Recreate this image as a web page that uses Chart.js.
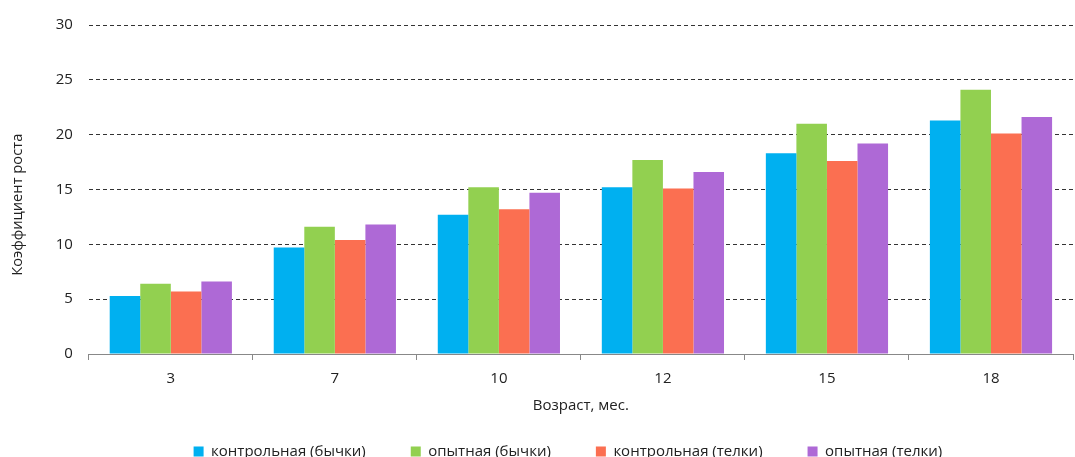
<!DOCTYPE html>
<html>
<head>
<meta charset="utf-8">
<script src="https://cdn.jsdelivr.net/npm/chart.js@4"></script>
<style>
  html, body { margin: 0; padding: 0; background: #fff; }
  #wrap { width: 1075px; height: 457px; }
</style>
</head>
<body>
<div id="wrap"><canvas id="chart"></canvas></div>
<script>
const categories = ["3", "7", "10", "12", "15", "18"];
const controlBulls = [5.3, 9.7, 12.7, 15.2, 18.3, 21.3];
const testBulls = [6.4, 11.6, 15.2, 17.7, 21.0, 24.1];
const controlHeifers = [5.7, 10.4, 13.2, 15.1, 17.6, 20.1];
const testHeifers = [6.6, 11.8, 14.7, 16.6, 19.2, 21.6];
const seriesNames = ["контрольная (бычки)", "опытная (бычки)", "контрольная (телки)", "опытная (телки)"];
const colors = ["#00B0F0", "#92D050", "#FB6F51", "#AE69D6"];

Chart.defaults.font.family = "'Open Sans', sans-serif";
Chart.defaults.font.size = 15;
Chart.defaults.color = "#222";

const values = [controlBulls, testBulls, controlHeifers, testHeifers];

// the legend in the original sits a little left of the plot centre
const legendNudge = {
  id: "legendNudge",
  afterLayout(chart) {
    if (chart.legend) chart.legend.left -= 26;
  }
};

const ctx = document.getElementById("chart").getContext("2d");
const chart = new Chart(ctx, {
  type: "bar",
  data: {
    labels: categories,
    datasets: values.map((v, i) => ({
      label: seriesNames[i],
      data: v,
      backgroundColor: colors[i],
      borderWidth: 0,
      categoryPercentage: 0.745,
      barPercentage: 1.0
    }))
  },
  plugins: [legendNudge],
  options: {
    responsive: true,
    maintainAspectRatio: false,
    animation: false,
    layout: { padding: { top: 12, right: 2, left: 0, bottom: -12 } },
    plugins: {
      tooltip: { enabled: false },
      legend: {
        position: "bottom",
        fullSize: false,
        labels: {
          boxWidth: 10,
          boxHeight: 10,
          padding: 45,
          font: { size: 15 },
          color: "#222"
        }
      }
    },
    scales: {
      x: {
        grid: {
          offset: true,
          drawOnChartArea: false,
          tickLength: 6,
          color: "#888"
        },
        border: { display: true, color: "#888", width: 1 },
        ticks: { padding: 10, font: { size: 15 } },
        title: {
          display: true,
          text: "Возраст, мес.",
          font: { size: 15 },
          // negative bottom padding lets the title sit inside the legend's top gap
          padding: { top: -1, bottom: -16 }
        }
      },
      y: {
        min: 0,
        max: 30,
        ticks: { stepSize: 5, padding: 16, font: { size: 15 } },
        grid: {
          color: "#333",
          drawTicks: false,
          lineWidth: 1
        },
        border: { display: false, dash: [4, 3] },
        title: {
          display: true,
          // trailing spaces nudge the centred title a bit lower, as in the original
          text: "Коэффициент роста        ",
          font: { size: 14.7 },
          padding: { top: 9, bottom: 13 }
        }
      }
    }
  }
});
</script>
</body>
</html>
